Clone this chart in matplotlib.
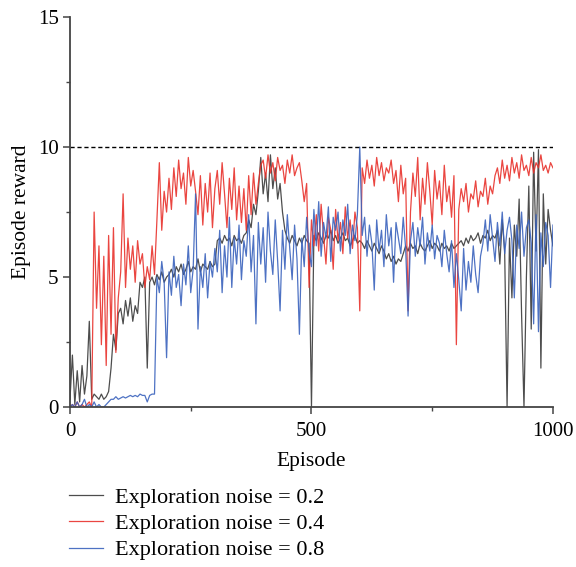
import numpy as np
import matplotlib
matplotlib.use("Agg")
import matplotlib.pyplot as plt
from matplotlib.ticker import MultipleLocator

plt.rcParams['font.family'] = ['Liberation Serif', 'DejaVu Serif']

# --- data (one value every 5 episodes) ---
noise_02 = [
    0.3, 2.0, 0.1, 1.4, 0.2, 1.6, 0.5, 1.2, 3.3, 0.3, 0.5,
    0.4, 0.3, 0.5, 0.3, 0.4, 0.6,
    1.5, 2.8, 2.2, 3.6,
    3.8, 3.2, 4.1, 3.5, 4.2, 3.3, 3.9, 3.6, 4.8, 4.6, 5.0,
    1.5,
    4.8, 5.0, 4.7, 5.1, 4.9, 5.2, 4.8, 5.0,
    5.1, 5.3, 5.0, 5.4, 5.2, 5.5, 5.1, 5.3, 5.6, 5.2, 5.4, 5.3, 5.7, 5.2, 5.5, 5.4, 5.3, 5.6, 5.4, 5.5,
    6.4, 6.5, 6.3, 6.6, 6.4, 6.5, 6.2, 6.6, 6.4, 6.5, 6.3, 6.6,
    6.7, 7.2, 6.9, 7.8, 7.4, 8.3,
    9.6, 8.2, 9.0, 7.9, 9.7, 8.4, 9.2, 8.0, 8.6, 7.5,
    6.8, 6.5, 6.3, 6.6, 6.4, 6.2, 6.5, 6.3, 6.6, 6.4, 6.3,
    0.0,
    6.6, 6.4, 6.7, 6.5, 6.3, 6.6, 6.5, 6.8, 6.4, 6.6, 6.3, 6.5, 6.7, 6.4, 6.5, 6.2, 6.4, 6.6, 6.3, 6.4,
    6.3, 6.1, 6.4, 6.2, 6.0, 6.3, 6.1, 5.9, 6.2, 6.0, 5.7, 5.9, 5.6, 5.8, 5.5, 5.7, 5.6, 5.9,
    6.2, 6.0, 6.3, 6.1, 6.2, 5.9, 6.3, 6.1, 6.0, 6.2, 6.4, 6.1, 6.3, 6.2, 6.0, 6.3, 6.1, 6.2, 6.0, 6.3, 6.1, 6.2,
    6.3, 6.4, 6.2, 6.5, 6.3, 6.6, 6.4, 6.5, 6.7, 6.3, 6.6, 6.5, 6.8, 6.4, 6.6, 6.5,
    6.8, 5.5, 7.2, 6.0, 0.0, 6.5, 4.2, 7.0, 5.8, 8.0, 3.6, 0.0, 5.0, 8.5, 3.0, 9.8, 6.0, 9.9, 1.5, 8.2, 5.5, 7.6, 6.8, 6.2,
]

noise_04 = [
    0.0, 0.1, 0.0, 0.2, 0.0, 0.1, 0.0, 0.1, 0.2, 0.0,
    7.5,
    3.8, 6.2, 2.4, 5.8, 1.6, 6.6, 2.8, 6.9, 2.1, 4.2,
    5.2, 8.2, 4.6, 6.5, 5.3, 6.2, 4.8, 6.4, 5.5, 5.9,
    4.6, 5.4, 4.9, 6.2, 5.1, 7.2, 9.4, 6.8, 8.3, 7.5,
    8.8, 7.6, 9.2, 8.1, 9.5, 8.4, 9.0, 7.8, 9.6, 8.5, 9.1, 8.3,
    7.4, 8.9, 7.0, 8.6, 7.5, 9.0, 6.9, 8.4,
    9.1, 7.8, 9.4, 8.2, 6.9, 8.8, 7.6, 9.2, 7.2, 8.5,
    7.1, 8.4, 6.8, 8.9, 7.4, 9.0, 7.8, 8.6, 9.3,
    9.5, 8.8, 9.7, 9.0, 9.4, 8.7, 9.6, 9.1, 9.3, 8.6, 9.5, 9.0, 9.7, 8.9, 9.2, 9.4, 8.7,
    7.9, 8.6, 4.6, 7.2,
    6.2, 7.4, 6.0, 7.8, 6.6, 5.5, 7.3, 6.8, 5.3, 7.6, 6.4, 7.1, 5.9, 7.7, 6.5, 7.2, 6.1, 7.5, 6.9,
    3.7,
    9.2, 8.6, 9.5, 8.8, 9.3, 8.5, 9.6, 8.9, 9.4, 8.7, 9.2, 9.0, 9.5, 8.6, 9.1,
    7.9, 9.3, 8.2, 8.8,
    3.7,
    7.5, 9.0, 8.1, 9.6, 7.2, 8.8, 7.8, 9.4, 8.3, 7.0, 9.1, 8.0, 8.7, 7.4, 9.3, 7.9, 8.5, 7.3, 8.9,
    2.4,
    7.6, 8.4, 7.9, 8.6, 7.5, 8.2, 8.0, 8.7, 7.7, 8.3, 8.1, 8.8, 7.8, 8.5, 8.2, 8.9,
    9.2, 8.6, 9.5, 8.8, 9.3, 8.7, 9.6, 9.0, 9.4, 8.8, 9.7, 9.1, 9.3, 8.9, 9.6, 9.0, 9.4, 9.2, 9.7, 9.1, 9.3, 9.0, 9.4, 9.2,
]

noise_08 = [
    0.0, 0.1, 0.0, 0.2, 0.0, 0.1, 0.3, 0.0, 0.1, 0.0, 0.2, 0.0, 0.1, 0.0, 0.0, 0.1,
    0.2, 0.3, 0.3, 0.4, 0.3, 0.35, 0.4, 0.35, 0.4, 0.45, 0.4, 0.45, 0.4, 0.5, 0.45, 0.45, 0.2, 0.45, 0.5, 0.5,
    5.0, 4.4, 5.6, 4.8, 1.9, 5.2, 4.3, 5.8, 4.6, 5.1, 3.9, 5.5, 4.7, 6.2, 4.4, 5.3, 8.2, 3.0, 5.4, 4.6, 5.9, 4.2, 5.6, 5.0, 6.1,
    5.2, 6.8, 4.4, 6.2, 5.0, 7.3, 4.6, 6.5, 5.5, 7.0, 4.9, 6.4,
    5.8, 7.4, 5.2, 6.6, 3.2, 7.1, 5.5, 6.9, 4.8, 7.5, 6.0, 5.1, 7.2, 5.6, 3.7, 6.8, 5.3, 7.4, 6.1, 4.9, 7.0, 5.7, 2.8, 6.5, 5.4, 7.3, 6.0,
    5.4, 7.6, 6.2, 7.9, 5.8, 7.1, 6.5, 7.7, 5.6, 7.3, 6.8, 7.5, 6.0, 7.2, 6.6, 7.8, 5.9, 7.0, 6.4, 7.4,
    10.0,
    6.6, 7.3, 5.8, 7.0, 6.3, 4.5, 7.2, 6.0, 6.8, 5.4, 7.4, 6.2, 6.9, 4.8, 7.1, 6.5, 5.9, 7.3, 6.1,
    3.5,
    6.4, 7.1, 5.8, 6.9, 6.2, 7.3, 5.5, 6.7, 6.0, 7.0, 5.7, 6.6, 6.3, 5.4, 6.8, 5.9,
    5.2, 6.4, 4.6, 5.9, 4.9, 3.7, 6.1, 4.5, 5.6, 4.8, 6.2, 5.1, 4.4, 5.8,
    6.3, 7.2, 6.0, 7.4, 6.5, 5.6, 7.1, 6.2, 7.5, 5.9, 6.8, 7.3, 6.4, 4.2, 7.0, 6.1, 7.5, 5.8, 6.9, 7.2, 6.3, 3.2, 7.4, 2.9, 6.7, 5.4, 7.1, 6.6, 4.6, 7.0,
]

labels = ["Exploration noise = 0.2", "Exploration noise = 0.4", "Exploration noise = 0.8"]
colors = ["#3a3a3a", "#e8322c", "#3b63bd"]
target_reward = 10

fig = plt.figure(figsize=(5.76, 5.67), dpi=100)
ax = fig.add_axes([0.1215, 0.282, 0.8385, 0.688])

for series, lab, col in zip([noise_02, noise_04, noise_08], labels, colors):
    ep = np.arange(len(series)) * 5
    ax.plot(ep, series, color=col, lw=0.9, alpha=0.9, label=lab)

ax.plot([0, 1000], [target_reward, target_reward], color="black", lw=1.0,
        dashes=(3, 2))

ax.set_xlim(0, 1000)
ax.set_ylim(0, 15)
ax.xaxis.set_major_locator(MultipleLocator(500))
ax.xaxis.set_minor_locator(MultipleLocator(250))
ax.yaxis.set_major_locator(MultipleLocator(5))
ax.yaxis.set_minor_locator(MultipleLocator(2.5))
ax.tick_params(which="major", direction="out", length=4.7, width=1.1,
               labelsize=15, color="#444444")
ax.tick_params(axis="x", which="major", pad=6)
ax.tick_params(which="minor", direction="out", length=3.2, width=1.0,
               color="#444444")
for side in ["top", "right"]:
    ax.spines[side].set_visible(False)
for side in ["left", "bottom"]:
    ax.spines[side].set_linewidth(1.3)
    ax.spines[side].set_color("#444444")

ax.set_xlabel("Episode", fontsize=15.5, labelpad=8)
ax.set_ylabel("Episode reward", fontsize=15.5, labelpad=5)

ax.legend(loc="upper left", bbox_to_anchor=(-0.043, -0.155), frameon=False,
          fontsize=16, handlelength=1.5, handletextpad=0.55, labelspacing=0.25)

fig.savefig("out.png", dpi=100)
